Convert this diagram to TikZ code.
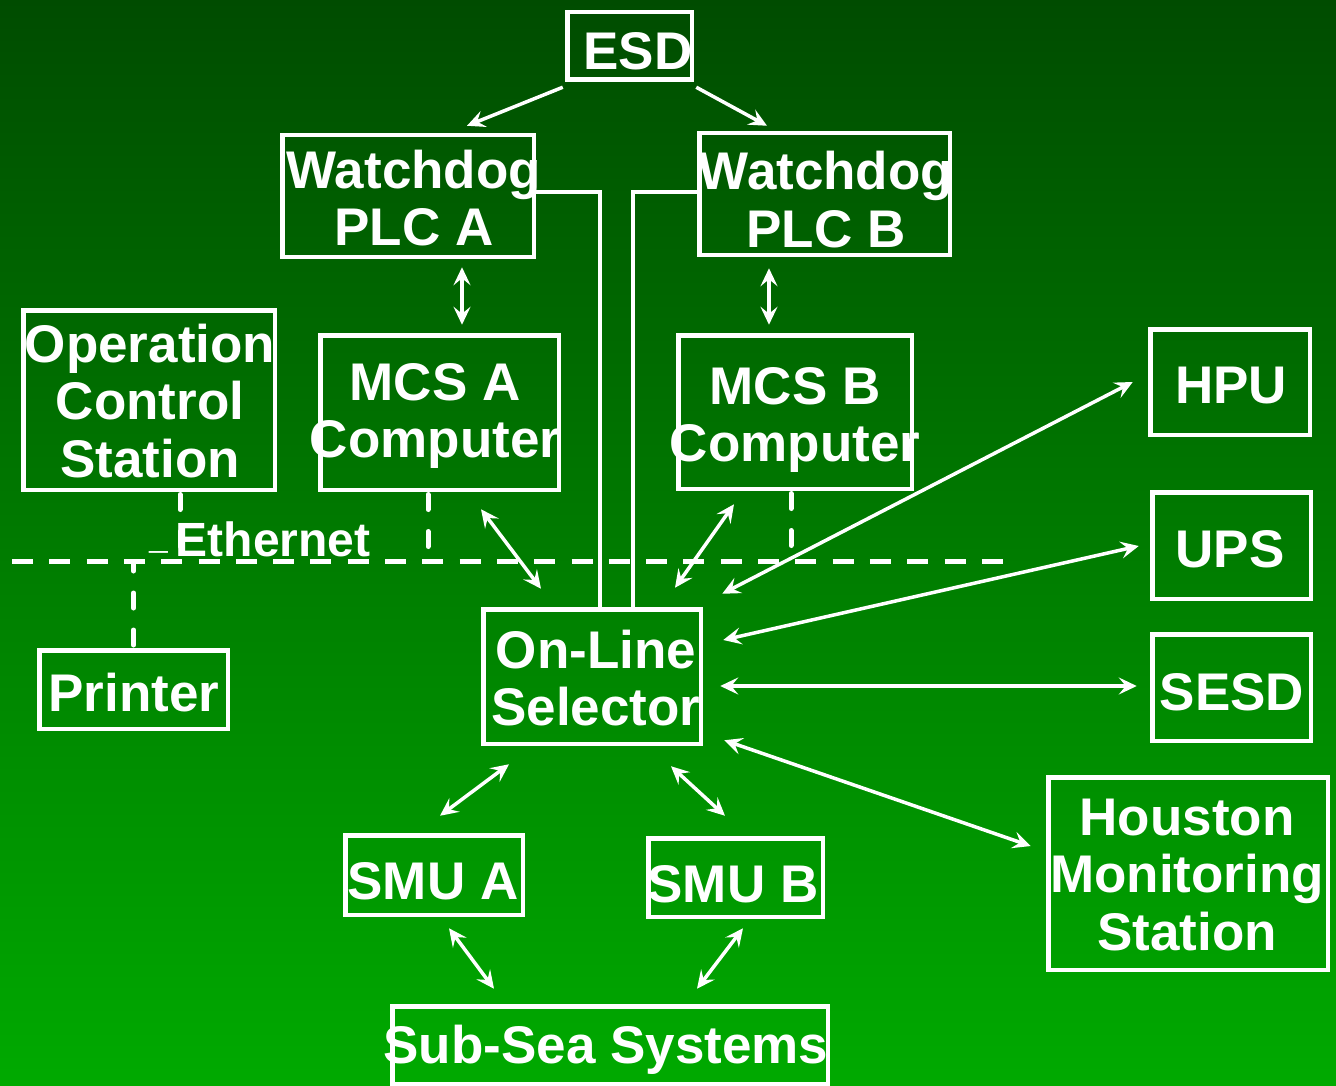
\documentclass[tikz,border=0pt]{standalone}
\usepackage{fontspec}
\setmainfont{Liberation Sans}
\usetikzlibrary{arrows.meta,calc}
\definecolor{bgtop}{RGB}{0,76,0}
\definecolor{bgmid}{RGB}{0,134,0}
\definecolor{bgbot}{RGB}{0,170,0}
\newcommand{\mlines}[1]{\begin{tabular}{@{}c@{}}#1\end{tabular}}
\tikzset{
  box/.style 2 args={draw=white,line width=4.5pt,inner sep=0pt,minimum width=#1,minimum height=#2},
  txt/.style={text=white,inner sep=0pt,font=\fontsize{53}{57.5}\selectfont\bfseries},
  arr/.style={draw=white,line width=3.5pt,>={Stealth[length=18pt,width=17pt,inset=7pt]}},
  wire/.style={draw=white,line width=4pt},
  bus/.style={draw=white,line width=5pt,dash pattern=on 21pt off 16.3pt},
  drop/.style={draw=white,line width=5pt,line cap=round,dash pattern=on 15pt off 22pt}
}
\begin{document}
\begin{tikzpicture}[x=1pt,y=-1pt]
\useasboundingbox (0,0) rectangle (1336,1086);
\shade[top color=bgtop,middle color=bgmid,bottom color=bgbot] (0,0) rectangle (1336,1086);

% boxes
\node[box={124.5pt}{67.5pt}] (esd) at (629.5,46) {};
\node[box={251.5pt}{121.5pt}] (wda) at (408,196) {};
\node[box={250.5pt}{121.5pt}] (wdb) at (824.5,194) {};
\node[box={251.5pt}{179.5pt}] (ocs) at (149,400) {};
\node[box={238.5pt}{154.5pt}] (mcsa) at (439.5,412.5) {};
\node[box={233.5pt}{153.5pt}] (mcsb) at (795,412) {};
\node[box={159.5pt}{105.5pt}] (hpu) at (1230,382) {};
\node[box={158.5pt}{106.5pt}] (ups) at (1231.5,545.5) {};
\node[box={158.5pt}{106.5pt}] (sesd) at (1231.5,687.5) {};
\node[box={279.5pt}{192.5pt}] (hms) at (1188,873.5) {};
\node[box={188.5pt}{78.5pt}] (prn) at (133.5,689.5) {};
\node[box={217.5pt}{134.5pt}] (ols) at (592,676.5) {};
\node[box={177.5pt}{79.5pt}] (smua) at (434,875) {};
\node[box={174.5pt}{78.5pt}] (smub) at (735.5,877.5) {};
\node[box={435.5pt}{77.5pt}] (sub) at (610,1045) {};

% texts
\node[txt] (esdT) at (638,58.5) {\mlines{ESD}};
\node[txt] (wdaT) at (414,205.25) {\mlines{Watchdog\\PLC A}};
\node[txt] (wdbT) at (826,207.25) {\mlines{Watchdog\\PLC B}};
\node[txt] (ocsT) at (150,408) {\mlines{Operation\\Control\\Station}};
\node[txt] (mcsaT) at (435,417.25) {\mlines{MCS A\\Computer}};
\node[txt] (mcsbT) at (795,421.25) {\mlines{MCS B\\Computer}};
\node[txt] (hpuT) at (1231,391.5) {\mlines{HPU}};
\node[txt] (upsT) at (1230,555.5) {\mlines{UPS}};
\node[txt] (sesdT) at (1232,698.5) {\mlines{SESD}};
\node[txt] (hmsT) at (1187,881) {\mlines{Houston\\Monitoring\\Station}};
\node[txt] (prnT) at (134,699.5) {\mlines{Printer}};
\node[txt] (olsT) at (596,685.25) {\mlines{On-Line\\Selector}};
\node[txt] (smuaT) at (433,887.5) {\mlines{SMU A}};
\node[txt] (smubT) at (733,890.5) {\mlines{SMU B}};
\node[txt] (subT) at (606,1051.5) {\mlines{Sub-Sea Systems}};

% ethernet bus
\coordinate (busL) at (12,561.5);
\coordinate (busR) at (1005,561.5);
\coordinate (dO) at ($(ocs.south)+(31,2.5)$);
\coordinate (dP) at ($(prn.north)+(0,-3)$);
\coordinate (dA) at ($(mcsa.south)+(-11.5,2.5)$);
\coordinate (dB) at ($(mcsb.south)+(-4,2.5)$);
\draw[bus] (busL) -- (busR);
\draw[drop] (dO) -- (dO |- busL);
\draw[drop] (dP) -- (dP |- busL);
\draw[drop] (dA) -- (dA |- busL);
\draw[drop] (dB) -- (dB |- busL);
\node[text=white,inner sep=0pt,anchor=base west,font=\fontsize{48}{52}\selectfont\bfseries] (eth) at (149,556)
  {\raisebox{9pt}{\scalebox{0.7}[1]{\_}}\hspace{8pt}Ethernet};

% solid wires from watchdogs to selector
\draw[wire] ($(wda.east)+(0,-4)$) -| ($(ols.north)+(8,0)$);
\draw[wire] ($(wdb.west)+(0,-2)$) -| ($(ols.north)+(41,0)$);

% arrows
\draw[arr,->] ($(esd.south west)+(-2.25,5.25)$) -- ($(wda.north)+(59,-7.25)$);
\draw[arr,->] ($(esd.south east)+(2.25,5.25)$) -- ($(wdb.north)+(-57.5,-5.25)$);
\draw[arr,<->] ($(wda.south)+(54,8.25)$) -- ($(mcsa.north)+(22.5,-8.25)$);
\draw[arr,<->] ($(wdb.south)+(-55.5,11.25)$) -- ($(mcsb.north)+(-26,-8.25)$);
\draw[arr,<->] ($(mcsa.south)+(41.5,17.25)$) -- ($(ols.north)+(-51,-18.25)$);
\draw[arr,<->] ($(mcsb.south)+(-61,13.25)$) -- ($(ols.north)+(83,-19.25)$);
\draw[arr,<->] ($(hpu.west)+(-15.25,0)$) -- ($(ols.north east)+(19.25,-13.25)$);
\draw[arr,<->] ($(ups.west)+(-11.25,0.5)$) -- ($(ols.east)+(20.25,-36.5)$);
\draw[arr,<->] ($(sesd.west)+(-13.25,-1.5)$) -- ($(ols.east)+(17.25,9.5)$);
\draw[arr,<->] ($(hms.west)+(-15.25,-27.5)$) -- ($(ols.south east)+(21.25,-5.75)$);
\draw[arr,<->] ($(ols.south)+(-83,18.25)$) -- ($(smua.north)+(6,-17.25)$);
\draw[arr,<->] ($(ols.south)+(79,20.25)$) -- ($(smub.north)+(-10.5,-20.25)$);
\draw[arr,<->] ($(smua.south)+(15,11.25)$) -- ($(sub.north)+(-116,-15.25)$);
\draw[arr,<->] ($(smub.south)+(7.5,9.25)$) -- ($(sub.north)+(87,-15.25)$);
\end{tikzpicture}
\end{document}
